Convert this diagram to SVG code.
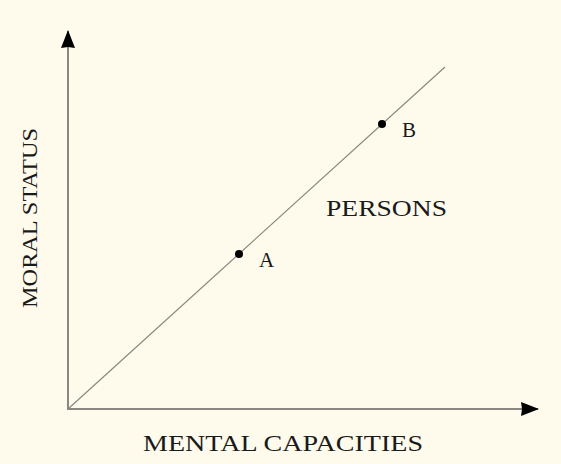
<svg xmlns="http://www.w3.org/2000/svg" width="561" height="464" viewBox="0 0 561 464">
<style>
.axis{stroke:#8a8680;stroke-width:2;fill:none}
.diag{stroke:#8a8680;stroke-width:1.2;fill:none}
.lbl{font-family:"Liberation Serif","Times New Roman",serif;fill:#1a1a1a}
.dot{fill:#000}
</style>
<defs>
<marker id="ah" markerWidth="18" markerHeight="14" refX="17" refY="7" orient="auto" markerUnits="userSpaceOnUse">
<path d="M0,0 L18,7 L0,14 L1,7 Z" fill="#000"/>
</marker>
</defs>
<rect width="561" height="464" fill="#fefbec"/>
<g id="connectors">
<line class="axis" x1="68" y1="409" x2="68" y2="31" marker-end="url(#ah)"/>
<line class="axis" x1="67" y1="409" x2="538" y2="409" marker-end="url(#ah)"/>
<line class="diag" x1="68" y1="409" x2="445" y2="67"/>
</g>
<g id="pointA">
<circle class="dot" cx="239" cy="254" r="4"/>
<text class="lbl" x="259" y="267" font-size="21">A</text>
</g>
<g id="pointB">
<circle class="dot" cx="382" cy="124" r="4"/>
<text class="lbl" x="402" y="137" font-size="21">B</text>
</g>
<g id="persons">
<text class="lbl" x="326" y="216" font-size="23" textLength="121" lengthAdjust="spacingAndGlyphs">PERSONS</text>
</g>
<g id="xlabel">
<text class="lbl" x="143" y="451" font-size="23" textLength="280" lengthAdjust="spacingAndGlyphs">MENTAL CAPACITIES</text>
</g>
<g id="ylabel">
<text class="lbl" font-size="22" transform="translate(37,308) rotate(-90)" textLength="180" lengthAdjust="spacingAndGlyphs">MORAL STATUS</text>
</g>
</svg>
